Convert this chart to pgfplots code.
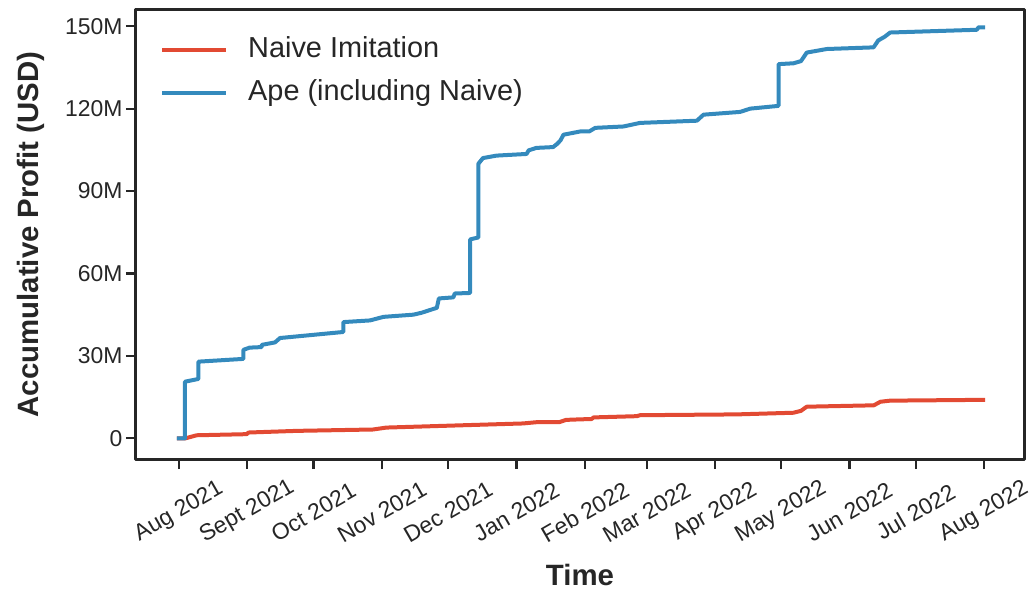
\documentclass[border=0pt]{standalone}
\usepackage{pgfplots}
\pgfplotsset{compat=1.18}
\usepackage{fontspec}
\setmainfont{Liberation Sans}
\definecolor{cred}{HTML}{E24A33}
\definecolor{cblue}{HTML}{348ABD}
\definecolor{cdark}{HTML}{262626}
\begin{document}
\begin{tikzpicture}
\begin{axis}[
  scale only axis,
  width=888bp, height=449bp,
  xmin=-19.5, xmax=383.1,
  ymin=-7.54, ymax=155.9,
  axis line style={cdark, line width=3bp},
  tick style={cdark, line width=2.2bp},
  tick align=outside,
  major tick length=10bp,
  xtick pos=bottom, ytick pos=left,
  xtick={0,31,61,92,122,153,184,212,243,273,304,334,365},
  xticklabels={Aug 2021,Sept 2021,Oct 2021,Nov 2021,Dec 2021,Jan 2022,Feb 2022,Mar 2022,Apr 2022,May 2022,Jun 2022,Jul 2022,Aug 2022},
  ytick={0,30,60,90,120,150},
  yticklabels={0,30M,60M,90M,120M,150M},
  /pgf/number format/assume math mode=true,
  ticklabel style={font=\fontsize{23}{27}\selectfont, text=cdark},
  x tick label style={anchor=center, yshift=-43bp, rotate=30},
  y tick label style={anchor=east},
  xlabel={\textbf{Time}},
  ylabel={\textbf{Accumulative Profit (USD)}},
  every axis x label/.style={at={(axis description cs:0.5,0)}, yshift=-116bp, anchor=center, font=\fontsize{29.5}{34}\selectfont, text=cdark},
  every axis y label/.style={at={(axis description cs:-0.1188,0.5)}, rotate=90, anchor=center, font=\fontsize{29.5}{34}\selectfont, text=cdark},
  legend style={draw=none, fill=none, at={(axis description cs:0,1)}, anchor=north west, xshift=21bp, yshift=-16.5bp,
    font=\fontsize{29}{34}\selectfont, text=cdark, row sep=0bp,
    nodes={inner ysep=0bp, text height=29bp, text depth=14bp}},
  legend cell align=left,
  legend image code/.code={\draw[#1, line width=4bp] (0bp,0bp) -- (64bp,0bp); \path (82bp,0bp);},
  line join=round,
]
\addplot[cred, line width=4bp] coordinates {
(-1,0) (3,0) (8,1.1) (30.7,1.5) (31.5,2.1) (53.4,2.7) (88,3.2) (94,3.9)
(129,4.75) (156,5.4) (162,5.85) (172.5,5.9) (175.5,6.7) (182,6.9) (187,7.0)
(188,7.6) (207.6,8.05) (209,8.4) (253,8.7) (278.6,9.3) (282,10.0) (284.6,11.5)
(315,12.0) (318,13.3) (322.4,13.7) (365.5,14.0)
};
\addlegendentry{Naive Imitation}
\addplot[cblue, line width=4bp] coordinates {
(-1,0) (2.7,0) (2.7,20.6) (8.8,21.6) (8.8,27.9) (29.2,28.9) (29.2,32.2)
(32,33.0) (37.5,33.2) (37.5,34.0) (43.5,34.9) (45.8,36.5) (74.5,38.7)
(74.5,42.3) (86.6,42.9) (92.7,44.2) (106.3,45.0) (110,45.7) (116.9,47.5)
(117.8,50.9) (124.4,51.3) (125,52.7) (132,52.9) (132,72.4) (135.7,73.1)
(135.7,99.9) (137.8,102.0) (144,102.9) (157.6,103.5) (158.5,104.8) (162,105.7)
(169.6,106.0) (171.5,107.2) (173,108.5) (174.3,110.5) (182,111.7) (186,111.7)
(188.7,113.0) (201.5,113.5) (209,114.8) (234.8,115.6) (237.8,117.8)
(254.4,118.8) (259,120) (271.8,121) (271.8,136.2) (278.6,136.5) (282,137.3)
(284.6,140.4) (293.7,141.7) (314.9,142.3) (317,144.8) (320,146.2)
(322.4,147.7) (361.7,148.7) (362.5,149.6) (365.5,149.6)
};
\addlegendentry{Ape (including Naive)}
\end{axis}
\pgfresetboundingbox
\path[use as bounding box] ([shift={(-136bp,-131bp)}]current axis.south west) rectangle ([shift={(9bp,10bp)}]current axis.north east);
\end{tikzpicture}
\end{document}
